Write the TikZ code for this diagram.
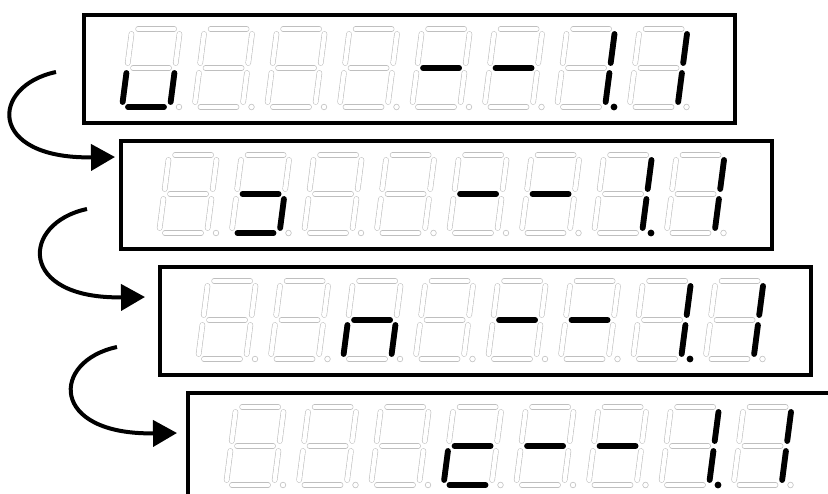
\documentclass[tikz,border=0pt]{standalone}
\usetikzlibrary{arrows.meta}
\tikzset{
  display/.style={draw, line width=3.2pt, minimum width=651pt, minimum height=108pt,
    anchor=north west, outer sep=0pt, inner sep=0pt},
  segoff/.style={draw=black!25, line width=0.6pt, double=white, double distance=4.4pt, line cap=round},
  segon/.style={line width=5.8pt, line cap=round},
  flow/.style={line width=4pt, -{Triangle[length=24pt,width=26pt]}},
  pics/sevenseg/.style={code={
    \begin{scope}[xslant=0.13]
      \foreach \n/\xa/\ya/\xb/\yb in {a/6/-78/42/-78, b/48/-73/48/-44, c/48/-34/48/-5,
          d/6/0/42/0, e/0/-34/0/-5, f/0/-73/0/-44, g/6/-39/42/-39}
        \draw[segoff] (\xa,\ya) coordinate (-\n1) -- (\xb,\yb) coordinate (-\n2);
    \end{scope}
    \draw[black!25, line width=0.6pt] (57,0) coordinate (-p) circle (2.8);
  }}
}
\begin{document}
\begin{tikzpicture}[x=1pt, y=-1pt]
  \useasboundingbox (0,0) rectangle (828,494);
  \clip (0,0) rectangle (828,494);
  % displays
  \foreach \row/\bx/\by in {1/84/15, 2/121/141, 3/160/267, 4/188/393} {
    \node[display] (box\row) at (\bx,\by) {};
    \foreach \i in {1,...,8}
      \pic (r\row d\i) at ({\bx+38+72.5*(\i-1)},{\by+92}) {sevenseg};
  }
  % dashes and 1.1 on every display
  \foreach \row in {1,...,4} {
    \foreach \d/\s in {5/g, 6/g, 7/b, 7/c, 8/b, 8/c}
      \draw[segon] (r\row d\d-\s1) -- (r\row d\d-\s2);
    \fill (r\row d7-p) circle (3.4);
  }
  % the letter moving right
  \foreach \p/\s in {r1d1/c, r1d1/d, r1d1/e, r2d2/g, r2d2/c, r2d2/d,
      r3d3/g, r3d3/e, r3d3/c, r4d4/g, r4d4/e, r4d4/d}
    \draw[segon] (\p-\s1) -- (\p-\s2);
  % arrows
  \foreach \f/\t/\sx/\sy/\tx/\ty in {1/2/-28/57/-6/16, 2/3/-34/68/-15/30, 3/4/-43/80/-11/40}
    \draw[flow] ([shift={(\sx,\sy)}]box\f.north west)
      .. controls +(-66,14) and +(-128,2) .. ([shift={(\tx,\ty)}]box\t.north west);
\end{tikzpicture}
\end{document}
